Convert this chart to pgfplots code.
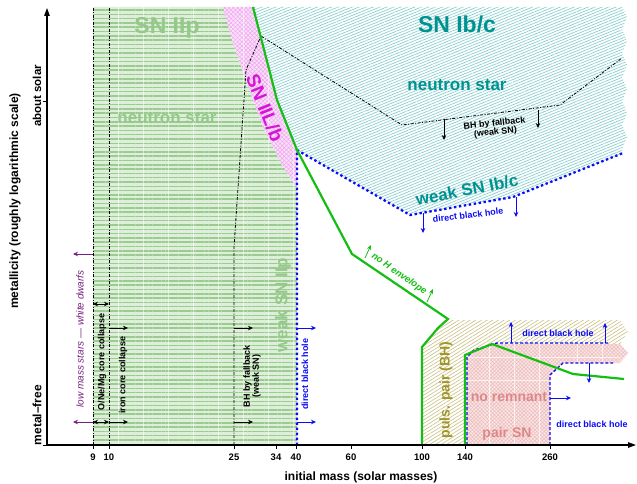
\documentclass[border=0pt]{standalone}
\usepackage{fontspec}
\setmainfont{Liberation Sans}
\usepackage{pgfplots}
\pgfplotsset{compat=1.18}
\usetikzlibrary{patterns.meta, arrows.meta}

\definecolor{iipbg}{RGB}{222,239,217}
\definecolor{iipline}{RGB}{155,203,145}
\definecolor{iiptext}{RGB}{150,200,140}
\definecolor{ibcline}{RGB}{135,205,205}
\definecolor{ibctext}{RGB}{0,145,145}
\definecolor{ilbbg}{RGB}{251,226,251}
\definecolor{ilbline}{RGB}{238,165,238}
\definecolor{ilbtext}{RGB}{215,20,215}
\definecolor{ppline}{RGB}{205,196,140}
\definecolor{pptext}{RGB}{160,150,40}
\definecolor{pairbg}{RGB}{249,230,230}
\definecolor{pairline}{RGB}{238,188,188}
\definecolor{pairtext}{RGB}{222,135,135}
\definecolor{hline}{RGB}{20,190,20}
\definecolor{bhblue}{RGB}{10,10,250}
\definecolor{wdpurple}{RGB}{120,30,130}

\newcommand{\fs}[1]{\fontsize{#1}{#1}\selectfont}

\tikzset{
  dashdot/.style={black, line width=0.8pt, dash pattern=on 3pt off 1.5pt on 1pt off 1.5pt},
  bhdot/.style={bhblue, line width=2.3pt, dash pattern=on 2.4pt off 2.6pt},
  bhdash/.style={bhblue, line width=1.3pt, dash pattern=on 3pt off 2pt},
  arr/.style={line width=0.8pt, -{Stealth[length=5pt,width=4.5pt]}},
  darr/.style={line width=0.8pt, {Stealth[length=5pt,width=4.5pt]}-{Stealth[length=5pt,width=4.5pt]}},
}

\begin{document}
\begin{tikzpicture}
\begin{axis}[
  x=1pt, y=1pt,
  xmin=47, xmax=636, ymin=38, ymax=475,
  axis lines=left,
  axis on top,
  axis line style={line width=1.2pt, -{Triangle[length=8pt,width=5.5pt]}},
  xtick={93,109,234,276,296,351,422,465,550},
  xticklabels={\textbf{9},\textbf{10},\textbf{25},\textbf{34},\textbf{40},\textbf{60},\textbf{100},\textbf{140},\textbf{260}},
  ytick={38,382}, yticklabels={},
  tick style={black, line width=0.8pt},
  major tick length=4pt,
  tick align=outside,
  xticklabel style={font=\bfseries\fs{9.5}, yshift=-1pt},
  /pgf/number format/assume math mode=true,
  unbounded coords=jump,
  clip=false,
]

% SN IIp: hydrogen-rich explosions leaving a neutron star
\addplot[draw=none, fill=iipbg] coordinates {(93,476) (223,476) (233,440) (247,400) (263,356) (283,316) (297,296) (297,38) (93,38)};
\addplot[draw=none, pattern={Lines[angle=0,distance=4.3pt,line width=1.5pt]}, pattern color=iipline]
  coordinates {(93,476) (223,476) (233,440) (247,400) (263,356) (283,316) (297,296) (297,38) (93,38)};

% SN IIL/b band
\addplot[draw=none, fill=ilbbg] coordinates {(223,476) (253,476) (277,383) (297,333) (297,296) (283,316) (263,356) (247,400) (233,440)};
\addplot[draw=none, pattern={Hatch[angle=45,distance=3pt,line width=0.5pt]}, pattern color=ilbline]
  coordinates {(223,476) (253,476) (277,383) (297,333) (297,296) (283,316) (263,356) (247,400) (233,440)};

% light background grid showing through the filled bands
\addplot[white, line width=0.9pt, opacity=0.55] coordinates {
  (118,38) (118,476) (118,nan)
  (143,38) (143,476) (143,nan)
  (168,38) (168,476) (168,nan)
  (193,38) (193,476) (193,nan)
  (218,38) (218,476) (218,nan)
  (243,38) (243,476) (243,nan)
  (268,38) (268,418) (268,nan)
  (293,38) (293,343)};

% SN Ib/c
\addplot[draw=none, pattern={Lines[angle=22,distance=2.6pt,line width=0.7pt]}, pattern color=ibcline]
  coordinates {(253,476) (622,476) (627,466) (622,454) (627,442) (622,430) (627,418) (622,406) (627,394) (622,382) (627,370) (622,358) (627,346) (622,334) (623,330) (513,286) (410,268) (297,333) (277,383)};

% pulsational pair instability
\addplot[draw=none, pattern={Lines[angle=32,distance=3pt,line width=0.7pt]}, pattern color=ppline]
  coordinates {(422,38) (422,136) (438,155) (448,163) (620,163) (628,151) (620,139) (492,139) (467,128) (467,38)};

% pair-instability supernovae
\addplot[draw=none, fill=pairbg] coordinates {(467,38) (467,128) (492,139) (620,139) (628,130) (620,120) (563,120) (550,108) (550,38)};
\addplot[draw=none, pattern={Hatch[angle=45,distance=2.6pt,line width=0.5pt]}, pattern color=pairline]
  coordinates {(467,38) (467,128) (492,139) (620,139) (628,130) (620,120) (563,120) (550,108) (550,38)};
\addplot[white, line width=0.9pt, opacity=0.7] coordinates {
  (489,38) (489,139) (489,nan)
  (514,38) (514,139) (514,nan)
  (539,38) (539,139) (539,nan)
  (577,120) (577,139) (577,nan)
  (602,120) (602,139) (602,nan)
  (467,103) (550,103) (550,nan)
  (467,126) (620,126)};

% core-collapse boundaries and fallback black holes
\addplot[dashdot] coordinates {(93,38) (93,476)};
\addplot[dashdot] coordinates {(109,38) (109,476)};
\addplot[dashdot] coordinates {(234,38) (234,236) (246,413) (261,447) (402,358) (560,378) (622,425)};

% direct black hole formation
\addplot[bhdot] coordinates {(297,38) (297,333) (410,268) (513,286) (623,330)};
\addplot[bhdash] coordinates {(467,38) (467,126) (474,133) (497,140) (610,140)};
\addplot[bhdash] coordinates {(550,38) (550,108) (563,120) (613,120)};

% loss of the hydrogen envelope
\addplot[hline, line width=2.2pt, line join=miter] coordinates {(253,476) (277,383) (297,333) (352,229) (448,164) (438,155) (422,136) (422,38)};
\addplot[hline, line width=2.2pt, line join=miter] coordinates {(465,38) (465,128) (492,139) (573,109) (624,104)};

% arrows
\addplot[arr, wdpurple] coordinates {(93,229) (73,229)};
\addplot[arr, wdpurple] coordinates {(93,61) (73,61)};
\addplot[darr, black] coordinates {(93,179) (109,179)};
\addplot[darr, black] coordinates {(93,61) (109,61)};
\addplot[arr, black] coordinates {(109,155) (128,155)};
\addplot[arr, black] coordinates {(109,61) (128,61)};
\addplot[arr, black] coordinates {(234,155) (253,155)};
\addplot[arr, black] coordinates {(234,61) (253,61)};
\addplot[arr, bhblue] coordinates {(297,155) (316,155)};
\addplot[arr, bhblue] coordinates {(297,61) (316,61)};
\addplot[arr, black] coordinates {(444,364) (444,343)};
\addplot[arr, black] coordinates {(538,373) (538,355)};
\addplot[arr, bhblue] coordinates {(423,270) (423,250)};
\addplot[arr, bhblue] coordinates {(516,286) (516,266)};
\addplot[arr, hline] coordinates {(365,225) (371,238)};
\addplot[arr, hline] coordinates {(427,181) (433,194)};
\addplot[arr, bhblue] coordinates {(511,140) (511,161)};
\addplot[arr, bhblue] coordinates {(605,140) (605,160)};
\addplot[arr, bhblue] coordinates {(589,120) (589,100)};
\addplot[arr, bhblue] coordinates {(550,85) (571,85)};

% region labels
\node[font=\bfseries\fs{23}, text=iiptext] at (axis cs:167,455) {SN IIp};
\node[font=\bfseries\fs{17}, text=iiptext] at (axis cs:167,365) {neutron star};
\node[font=\bfseries\fs{17}, text=iiptext, rotate=90] at (axis cs:283,178) {weak SN IIp};
\node[font=\bfseries\fs{19}, text=ilbtext, rotate=-68, inner sep=0pt] at (axis cs:265,375) {SN IIL/b};
\node[font=\bfseries\fs{23}, text=ibctext] at (axis cs:457,459) {SN Ib/c};
\node[font=\bfseries\fs{17}, text=ibctext] at (axis cs:457,398) {neutron star};
\node[font=\bfseries\fs{17}, text=ibctext, rotate=11] at (axis cs:467,293) {weak SN Ib/c};
\node[font=\bfseries\fs{9}, text=black, rotate=6, align=center, inner sep=0pt] at (axis cs:495,355) {BH by fallback\\(weak SN)};
\node[font=\bfseries\fs{9}, text=bhblue, rotate=7] at (axis cs:468,268) {direct black hole};
\node[font=\bfseries\itshape\fs{9.5}, text=hline, rotate=-35] at (axis cs:399,209) {no H envelope};
\node[font=\bfseries\fs{14}, text=pptext, rotate=90] at (axis cs:446,93) {puls. pair (BH)};
\node[font=\bfseries\fs{14}, text=pairtext] at (axis cs:509,86) {no remnant};
\node[font=\bfseries\fs{14}, text=pairtext] at (axis cs:507,49) {pair SN};
\node[font=\bfseries\fs{9}, text=bhblue] at (axis cs:558,150) {direct black hole};
\node[font=\bfseries\fs{9}, text=bhblue] at (axis cs:592,59) {direct black hole};
\node[font=\bfseries\fs{9}, text=bhblue, rotate=90] at (axis cs:305,109) {direct black hole};
\node[font=\bfseries\fs{9}, text=black, rotate=90, align=center, inner sep=0pt] at (axis cs:252,107) {BH by fallback\\(weak SN)};
\node[font=\bfseries\fs{9}, text=black, rotate=90] at (axis cs:123,108) {iron core collapse};
\node[font=\bfseries\fs{9}, text=black, rotate=90] at (axis cs:102,121) {O/Ne/Mg core collapse};
\node[font=\itshape\fs{10}, text=wdpurple, rotate=90] at (axis cs:80,144) {low mass stars --- white dwarfs};

% axis descriptions
\node[font=\bfseries\fs{11.5}, rotate=90] at (axis cs:37,387) {about solar};
\node[font=\bfseries\fs{12}, rotate=90] at (axis cs:37,68) {metal--free};
\node[font=\bfseries\fs{12}, rotate=90] at (axis cs:15,282) {metallicity (roughly logarithmic scale)};
\node[font=\bfseries\fs{12}] at (axis cs:361,6) {initial mass (solar masses)};

\coordinate (bbsw) at (axis cs:0,0);
\coordinate (bbne) at (axis cs:637,483);
\end{axis}
\pgfresetboundingbox
\useasboundingbox (bbsw) rectangle (bbne);
\end{tikzpicture}
\end{document}
